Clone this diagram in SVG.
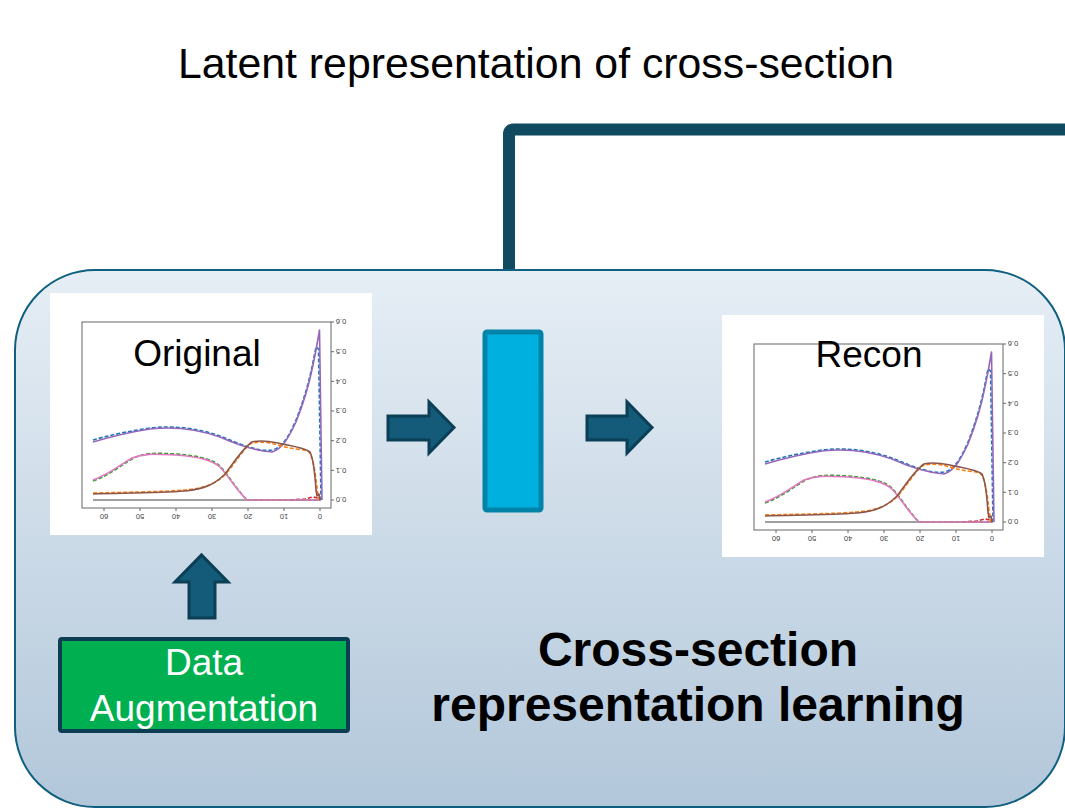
<svg xmlns="http://www.w3.org/2000/svg" xmlns:xlink="http://www.w3.org/1999/xlink" width="1065" height="809" viewBox="0 0 1065 809">
<defs>
<linearGradient id="pg" x1="0" y1="0" x2="0" y2="1">
<stop offset="0" stop-color="#e6eef5"/>
<stop offset="1" stop-color="#b2c7da"/>
</linearGradient>
<style>
.t{font-family:"Liberation Sans",Arial,sans-serif;fill:#000}
.tk{font-family:"Liberation Sans",Arial,sans-serif;font-size:7.5px;fill:#444;text-anchor:middle}
.arr{fill:#135b78;stroke:#0a3f55;stroke-width:3;stroke-linejoin:miter}
.c{fill:none;stroke-width:1.6;stroke-linejoin:round}
.d{fill:none;stroke-width:1.6;stroke-dasharray:4 2}
</style>
<g id="plot">
<rect x="50" y="293" width="322" height="242" fill="#ffffff"/>
<rect x="82" y="322" width="249" height="186" fill="none" stroke="#666" stroke-width="1"/>
<g stroke="#666" stroke-width="1">
<line x1="331" y1="500" x2="334" y2="500"/><line x1="331" y1="470.3" x2="334" y2="470.3"/><line x1="331" y1="440.7" x2="334" y2="440.7"/><line x1="331" y1="411" x2="334" y2="411"/><line x1="331" y1="381.3" x2="334" y2="381.3"/><line x1="331" y1="351.7" x2="334" y2="351.7"/><line x1="331" y1="322" x2="334" y2="322"/>
<line x1="320" y1="508" x2="320" y2="511"/><line x1="284" y1="508" x2="284" y2="511"/><line x1="248" y1="508" x2="248" y2="511"/><line x1="212" y1="508" x2="212" y2="511"/><line x1="176" y1="508" x2="176" y2="511"/><line x1="140" y1="508" x2="140" y2="511"/><line x1="104" y1="508" x2="104" y2="511"/>
</g>
<g class="tk">
<text x="341" y="502.7" transform="rotate(180 341 500)">0.0</text>
<text x="341" y="473" transform="rotate(180 341 470.3)">0.1</text>
<text x="341" y="443.4" transform="rotate(180 341 440.7)">0.2</text>
<text x="341" y="413.7" transform="rotate(180 341 411)">0.3</text>
<text x="341" y="384" transform="rotate(180 341 381.3)">0.4</text>
<text x="341" y="354.4" transform="rotate(180 341 351.7)">0.5</text>
<text x="341" y="324.7" transform="rotate(180 341 322)">0.6</text>
<text x="320" y="519.7" transform="rotate(180 320 517)">0</text>
<text x="284" y="519.7" transform="rotate(180 284 517)">10</text>
<text x="248" y="519.7" transform="rotate(180 248 517)">20</text>
<text x="212" y="519.7" transform="rotate(180 212 517)">30</text>
<text x="176" y="519.7" transform="rotate(180 176 517)">40</text>
<text x="140" y="519.7" transform="rotate(180 140 517)">50</text>
<text x="104" y="519.7" transform="rotate(180 104 517)">60</text>
</g>
<line x1="93" y1="500" x2="321" y2="500" stroke="#7f7f7f" stroke-width="1.4"/>
<path class="d" stroke="#d62728" d="M290,500 L305,499 L313,497 L318,498"/>
<path class="d" stroke="#1f77b4" d="M93,440 C110,435 130,431 150,428 C176,425 200,429 220,436 C240,444 258,452 272,450 C282,448 288,438 296,420 C304,400 310,378 313,362 L316,347 L318.5,349 L321,500"/>
<path class="c" stroke="#9467bd" d="M93,442 C110,437 130,432 150,429 C176,426 200,430 220,437 C240,446 258,451 272,452 C282,449 288,439 296,422 C304,402 310,380 313,365 L316,350 L319.5,330 L322,500"/>
<path class="d" stroke="#2ca02c" d="M93,481 C108,476 120,466 132,459 C145,452 155,453 176,454 C200,456 212,459 220,466 C230,477 237,490 247,500 L320,500"/>
<path class="c" stroke="#e377c2" d="M93,480 C108,475 120,465 132,458 C145,453 155,454 176,455 C200,457 212,460 220,467 C230,478 237,491 247,500 L320,500"/>
<path class="d" stroke="#ff7f0e" d="M93,493 C130,492 160,492 185,490 C205,488 215,484 225,475 C235,463 243,450 250,444 C258,441 268,442 278,445 C290,449 300,449 308,451 C313,456 315,470 317,488 L319,500"/>
<path class="c" stroke="#8c564b" d="M93,494 C130,493 160,493 185,491 C205,489 215,484 225,474 C235,461 243,448 252,442 C260,440 268,441 278,443 C290,446 303,447 310,452 C314,460 315,475 316,490 L317,496 L319,494 L320,500"/>
</g>
</defs>
<g id="connectors">
<path d="M509,272 L509,134 Q509,129.5 514,129.5 L1066,129.5" fill="none" stroke="#0f4a5e" stroke-width="12"/>
</g>
<g id="panel">
<rect x="15" y="270" width="1050" height="537" rx="80" ry="80" fill="url(#pg)" stroke="#0f5f80" stroke-width="2"/>
</g>
<g id="title">
<text class="t" x="536" y="78" font-size="42.8" text-anchor="middle">Latent representation of cross-section</text>
</g>
<g id="original">
<use xlink:href="#plot" href="#plot"/>
<text class="t" x="197" y="366" font-size="37" text-anchor="middle">Original</text>
</g>
<g id="recon">
<use xlink:href="#plot" href="#plot" transform="translate(672,22)"/>
<text class="t" x="869" y="367" font-size="37" text-anchor="middle">Recon</text>
</g>
<g id="arrow-in">
<polygon class="arr" points="388,416 429,416 429,402 454,427.5 429,453 429,440 388,440"/>
</g>
<g id="latent">
<rect x="485" y="332" width="56" height="178" rx="2" fill="#00b0de" stroke="#0083a8" stroke-width="5"/>
</g>
<g id="arrow-out">
<polygon class="arr" points="587,416 627,416 627,402 652,427.5 627,453 627,440 587,440"/>
</g>
<g id="arrow-up">
<polygon class="arr" points="189,618 189,582 175,582 201.5,555 228,582 215,582 215,618"/>
</g>
<g id="augmentation">
<rect x="60" y="639" width="288" height="92" rx="2" fill="#00b050" stroke="#0d3d52" stroke-width="4"/>
<text class="t" x="204" y="675" font-size="37" text-anchor="middle" style="fill:#fff">Data</text>
<text class="t" x="204" y="721" font-size="37" text-anchor="middle" style="fill:#fff">Augmentation</text>
</g>
<g id="label">
<text class="t" x="698" y="666" font-size="48" font-weight="bold" text-anchor="middle">Cross-section</text>
<text class="t" x="698" y="721" font-size="48" font-weight="bold" text-anchor="middle">representation learning</text>
</g>
</svg>
